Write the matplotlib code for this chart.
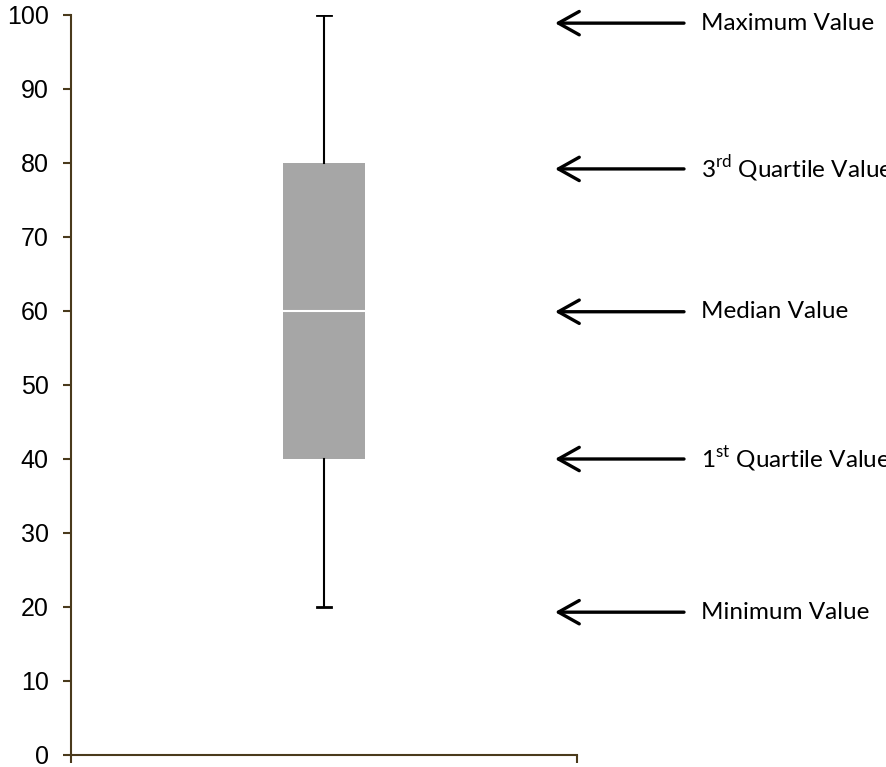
import matplotlib
matplotlib.use("Agg")
import matplotlib.pyplot as plt

# box summary values
WHISKER_LOW = 20
Q1 = 40
MEDIAN = 60
Q3 = 80
WHISKER_HIGH = 100

# annotation labels and the heights their arrows point at
LABELS = [
    "Maximum Value",
    r"3$^{\mathrm{rd}}$ Quartile Value",
    "Median Value",
    r"1$^{\mathrm{st}}$ Quartile Value",
    "Minimum Value",
]
ARROW_Y = [98.9, 79.2, 59.9, 40.0, 19.3]

Y_TICKS = list(range(0, 101, 10))

AXIS_COLOR = "#4a3a1c"
BOX_COLOR = "#a6a6a6"

plt.rcParams["mathtext.fontset"] = "custom"
plt.rcParams["mathtext.rm"] = "Lato"

W, H = 886, 767
fig = plt.figure(figsize=(W / 100, H / 100), dpi=100)
ax = fig.add_axes([71 / W, 12 / H, (577 - 71) / W, (755 - 15) / H])

stats = [{
    "whislo": WHISKER_LOW, "q1": Q1, "med": MEDIAN,
    "q3": Q3, "whishi": WHISKER_HIGH, "fliers": [],
}]
ax.bxp(
    stats, positions=[0.5], widths=0.162, capwidths=0.026,
    patch_artist=True, showfliers=False,
    boxprops=dict(facecolor=BOX_COLOR, edgecolor="none", linewidth=0),
    medianprops=dict(color="white", linewidth=1.5),
    whiskerprops=dict(color="black", linewidth=1.5),
    capprops=dict(color="black", linewidth=2),
)

ax.set_xlim(0, 1)
ax.set_ylim(0, 100)
ax.set_yticks(Y_TICKS)
ax.set_xticks([0, 1])
ax.set_xticklabels(["", ""])
for side in ("top", "right"):
    ax.spines[side].set_visible(False)
for side in ("left", "bottom"):
    ax.spines[side].set_color(AXIS_COLOR)
    ax.spines[side].set_linewidth(1.5)
ax.tick_params(axis="both", direction="out", length=6, width=1.5,
               color=AXIS_COLOR)
ax.tick_params(axis="y", pad=10, labelsize=18)
for lbl in ax.get_yticklabels():
    lbl.set_fontfamily("Liberation Sans")

# arrows + labels to the right of the plot (labels run off the edge as in the original)
tip_x = (555 - 71) / 506
tail_x = (684 - 71) / 506
text_x = (701 - 71) / 506
for label, y in zip(LABELS, ARROW_Y):
    ax.annotate(
        "", xy=(tip_x, y), xytext=(tail_x, y),
        xycoords=("axes fraction", "data"), textcoords=("axes fraction", "data"),
        arrowprops=dict(arrowstyle="->,head_length=0.5,head_width=0.28",
                        lw=2.4, color="black", mutation_scale=30,
                        shrinkA=0, shrinkB=0, capstyle="round"),
        annotation_clip=False,
    )
    ax.text(text_x, y, label, transform=ax.get_yaxis_transform(),
            fontfamily="Lato", fontsize=17.5, va="center", ha="left",
            clip_on=False)

fig.savefig("out.png", dpi=100)
